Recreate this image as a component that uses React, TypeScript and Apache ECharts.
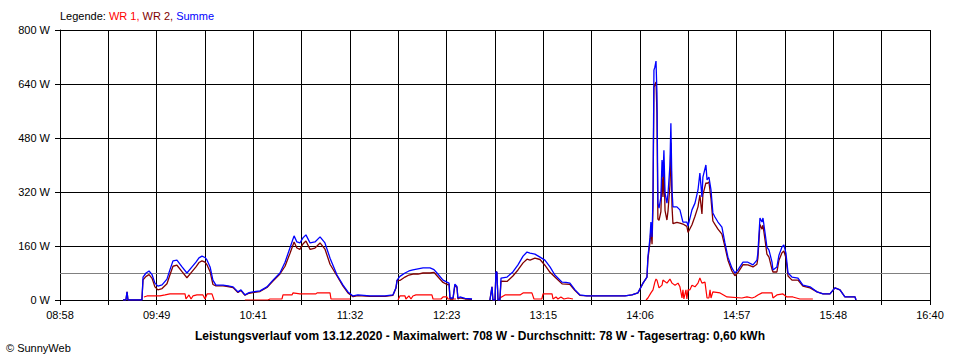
import React, { useEffect, useRef } from "react";
import * as echarts from "echarts";

// x-axis tick labels (every second grid line)
const xTickLabels = ["08:58", "09:49", "10:41", "11:32", "12:23", "13:15", "14:06", "14:57", "15:48", "16:40"];
const yUnit = " W";
const averageW = 78;

const titleText =
  "Leistungsverlauf vom 13.12.2020 - Maximalwert: 708 W - Durchschnitt: 78 W - Tagesertrag: 0,60 kWh";
const copyrightText = "© SunnyWeb";

// times in minutes of the day (shared by Summe and WR 2)
const sumTimes = [
  571.5, 573.0, 573.6, 574.1, 577.8, 581.5, 582.1, 583.7, 585.3, 586.9,
  588.4, 590.0, 592.2, 594.8, 596.4, 598.0, 600.1, 602.8, 605.4, 608.1,
  610.2, 611.8, 613.4, 615.0, 616.1, 617.7, 619.2, 620.8, 624.6, 627.2,
  629.9, 632.5, 634.1, 636.2, 638.4, 640.5, 644.2, 647.9, 651.1, 654.8,
  657.5, 660.1, 662.3, 663.8, 665.4, 667.0, 668.6, 670.8, 673.4, 676.1,
  678.7, 681.4, 685.1, 688.3, 690.9, 693.6, 696.2, 702.6, 710.6, 714.8,
  716.4, 717.0, 718.5, 721.2, 723.3, 725.4, 728.1, 730.8, 734.5, 736.6,
  738.2, 741.4, 743.5, 744.6, 745.1, 746.7, 747.7, 748.8, 749.3, 750.4,
  753.1, 756.8, 757.0, 766.3, 767.4, 767.9, 769.0, 769.5, 770.0, 770.6,
  771.6, 772.2, 775.4, 778.5, 781.2, 783.9, 786.0, 787.6, 790.2, 792.9,
  795.5, 798.2, 800.8, 804.6, 806.7, 808.8, 811.5, 814.1, 817.8, 824.7,
  832.7, 838.0, 841.7, 844.9, 847.6, 849.7, 850.2, 851.3, 851.8, 852.4,
  852.9, 853.4, 853.9, 854.5, 855.0, 855.5, 856.1, 857.1, 857.7, 858.2,
  858.7, 859.3, 860.3, 860.9, 861.9, 862.4, 863.0, 863.5, 865.6, 867.2,
  868.8, 870.9, 871.5, 873.6, 875.2, 876.8, 877.8, 878.9, 879.4, 881.0,
  881.6, 882.6, 883.7, 884.7, 885.8, 887.4, 889.5, 891.1, 892.7, 894.8,
  896.4, 898.0, 900.7, 903.3, 906.0, 908.1, 908.6, 909.7, 910.8, 911.3,
  912.4, 913.4, 914.5, 916.1, 916.6, 918.7, 919.8, 921.4, 922.4, 923.5,
  924.6, 926.7, 929.9, 932.5, 936.3, 940.0, 943.2, 946.9, 949.5, 952.2,
  954.8, 960.2, 960.7,
];

const summe = [
  0, 0, 24, 0, 0, 0, 68, 80, 86, 75,
  50, 41, 45, 62, 90, 116, 118, 98, 80, 98,
  112, 125, 130, 126, 118, 98, 59, 44, 44, 42,
  39, 24, 30, 15, 22, 24, 27, 39, 59, 80,
  112, 154, 190, 172, 169, 184, 193, 169, 172, 187,
  169, 124, 74, 44, 24, 12, 15, 12, 12, 15,
  36, 59, 70, 80, 86, 89, 92, 95, 95, 90,
  80, 59, 53, 50, 6, 6, 47, 40, 6, 9,
  5, 3, null, 0, 39, 0, 0, 83, 83, 0,
  0, 65, 68, 83, 104, 130, 142, 139, 136, 127,
  118, 98, 74, 53, 52, 50, 30, 15, 12, 12,
  12, 12, 15, 21, 50, 68, 127, 184, 231, 187,
  305, 681, 690, 708, 613, 287, 272, 305, 415, 364,
  444, 317, 287, 317, 400, 524, 326, 276, 276, 267,
  231, 231, 219, 267, 287, 326, 376, 305, 364, 400,
  356, 364, 326, 258, 246, 231, 216, 169, 127, 95,
  80, 89, 112, 112, 104, 118, 139, 243, 231, 243,
  199, 157, 148, 112, 89, 98, 133, 157, 163, 139,
  80, 68, 65, 44, 39, 24, 18, 18, 36, 30,
  9, 9, 0,
];

const wr2 = [
  0, 0, 24, 0, 0, 0, 60, 70, 75, 64,
  39, 30, 34, 48, 75, 100, 103, 84, 66, 84,
  98, 111, 116, 112, 104, 84, 46, 42, 42, 40,
  37, 22, 28, 14, 20, 22, 25, 37, 56, 77,
  100, 138, 172, 154, 150, 166, 175, 150, 154, 169,
  151, 106, 71, 41, 21, 10, 13, 11, 11, 14,
  35, 58, 58, 68, 74, 77, 77, 80, 80, 82,
  72, 52, 46, 46, 3, 3, 44, 37, 3, 6,
  3, 2, null, 0, 39, 0, 0, 83, 83, 0,
  0, 56, 55, 71, 89, 110, 121, 118, 124, 120,
  103, 82, 68, 48, 47, 46, 28, 14, 12, 12,
  12, 12, 15, 21, 50, 68, 121, 170, 210, 165,
  275, 630, 637, 646, 554, 240, 236, 262, 371, 305,
  385, 265, 237, 265, 340, 466, 276, 226, 230, 228,
  225, 218, 200, 223, 248, 276, 311, 255, 312, 347,
  345, 350, 300, 234, 224, 210, 195, 158, 118, 86,
  72, 81, 105, 104, 98, 106, 124, 224, 210, 222,
  178, 136, 127, 91, 83, 83, 118, 140, 145, 125,
  71, 59, 59, 41, 36, 24, 18, 18, 36, 30,
  9, 9, 0,
];

// WR 1 has its own time points
const wr1Times = [
  582.6, 584.2, 591.1, 593.8, 596.4, 604.4, 604.9, 606.5, 607.6, 608.6,
  610.7, 613.9, 615.0, 616.1, 618.7, 619.8, 620.0,
  636.2, 648.4, 649.5, 655.9, 656.4, 661.2, 661.7, 665.4, 673.9, 674.5,
  681.4, 681.9, 692.0, 692.5,
  717.5, 718.5, 721.2, 721.7, 723.3, 724.4, 725.4, 727.0, 735.5, 736.1,
  740.3, 741.4, 743.5, 744.0, 748.3, 748.8,
  770.6, 771.6, 774.3, 782.3, 783.9, 788.6, 789.7, 793.9, 794.5, 799.3,
  799.8, 801.4, 802.4, 804.0, 805.6, 807.8, 810.4, 811.0,
  849.2, 850.2, 851.8, 852.9, 853.9, 854.5, 855.0, 856.1, 857.7, 858.2,
  860.3, 861.9, 863.0, 864.6, 866.2, 867.2, 868.3, 868.8, 869.3, 870.4,
  870.9, 871.5, 872.5, 873.6, 875.2, 876.8, 877.8, 878.9, 880.5, 881.6,
  882.6, 883.2, 883.7, 884.7, 888.5, 892.2, 900.1, 902.8, 905.5, 907.0,
  908.6, 910.8, 916.1, 916.6, 918.7, 921.9, 924.0, 927.2, 930.9, 937.8,
];

const wr1 = [
  9, 12, 12, 15, 18, 18, 3, 15, 3, 12,
  15, 15, 3, 18, 18, 0, null,
  0, 0, 3, 3, 15, 15, 21, 18, 18, 21,
  21, 3, 3, null,
  0, 12, 12, 3, 12, 3, 12, 15, 15, 3,
  3, 9, 9, 3, 3, null,
  0, 6, 15, 15, 21, 21, 3, 3, 18, 18,
  3, 9, 3, 9, 3, 6, 3, null,
  0, 6, 21, 30, 53, 62, 59, 36, 44, 59,
  50, 62, 50, 44, 50, 39, 6, 30, 3, 30,
  3, 30, 30, 44, 39, 50, 65, 50, 53, 6,
  6, 30, 6, 24, 21, 9, 6, 9, 6, 9,
  15, 21, 21, 6, 15, 18, 9, 9, 3, 3,
];

const START_MIN = 8 * 60 + 58; // 08:58
const END_MIN = 16 * 60 + 40; // 16:40
const STEP_SEC = ((END_MIN - START_MIN) * 60) / 18;

function toPoints(times: number[], values: (number | null)[]) {
  return times.map((t, i) => [(t - START_MIN) * 60, values[i] === null ? "-" : values[i]]);
}

const FONT = "Liberation Sans, Arial, sans-serif";

export default function App() {
  const ref = useRef<HTMLDivElement>(null);
  useEffect(() => {
    if (!ref.current) return;
    const chart = echarts.init(ref.current, undefined, { renderer: "svg" });
    chart.setOption({
      animation: false,
      backgroundColor: "#ffffff",
      textStyle: { fontFamily: FONT },
      grid: { left: 60, right: 30, top: 30, bottom: 60 },
      xAxis: {
        type: "value",
        min: 0,
        max: (END_MIN - START_MIN) * 60,
        interval: STEP_SEC,
        axisLine: { show: true, onZero: false, lineStyle: { color: "#000", width: 1 } },
        axisTick: { show: true, length: 5, lineStyle: { color: "#000", width: 1 } },
        splitLine: { show: true, lineStyle: { color: "#000", width: 1 } },
        axisLabel: {
          color: "#000",
          fontSize: 11,
          fontFamily: FONT,
          margin: 9,
          showMinLabel: true,
          showMaxLabel: true,
          formatter: (v: number) => {
            const i = Math.round(v / STEP_SEC);
            return i % 2 === 0 ? xTickLabels[i / 2] ?? "" : "";
          },
        },
      },
      yAxis: {
        type: "value",
        min: 0,
        max: 800,
        interval: 160,
        axisLine: { show: true, lineStyle: { color: "#000", width: 1 } },
        axisTick: { show: true, length: 5, lineStyle: { color: "#000", width: 1 } },
        splitLine: { show: true, lineStyle: { color: "#000", width: 1 } },
        axisLabel: {
          color: "#000",
          fontSize: 11,
          fontFamily: FONT,
          margin: 10,
          formatter: (v: number) => v + yUnit,
        },
      },
      series: [
        {
          name: "WR 1",
          type: "line",
          data: toPoints(wr1Times, wr1),
          showSymbol: false,
          symbol: "none",
          lineStyle: { color: "#ff0000", width: 1.2 },
          itemStyle: { color: "#ff0000" },
          z: 3,
        },
        {
          name: "WR 2",
          type: "line",
          data: toPoints(sumTimes, wr2),
          showSymbol: false,
          symbol: "none",
          lineStyle: { color: "#800000", width: 1.3 },
          itemStyle: { color: "#800000" },
          z: 4,
        },
        {
          name: "Summe",
          type: "line",
          data: toPoints(sumTimes, summe),
          showSymbol: false,
          symbol: "none",
          lineStyle: { color: "#0000ff", width: 1.3 },
          itemStyle: { color: "#0000ff" },
          z: 5,
          markLine: {
            silent: true,
            symbol: "none",
            label: { show: false },
            lineStyle: { color: "#808080", width: 1, type: "solid" },
            data: [{ yAxis: averageW }],
            z: 2,
          },
        },
      ],
      graphic: [
        {
          type: "text",
          left: 60,
          top: 10,
          style: {
            text: "{k|Legende: }{r|WR 1, }{d|WR 2, }{b|Summe}",
            font: "11px " + FONT,
            rich: {
              k: { fill: "#000000", fontSize: 11, fontFamily: FONT },
              r: { fill: "#ff0000", fontSize: 11, fontFamily: FONT },
              d: { fill: "#800000", fontSize: 11, fontFamily: FONT },
              b: { fill: "#0000ff", fontSize: 11, fontFamily: FONT },
            },
          },
        },
        {
          type: "text",
          left: "center",
          top: 330,
          style: { text: titleText, font: "bold 12px " + FONT, fill: "#000" },
        },
        {
          type: "text",
          left: 6,
          top: 342,
          style: { text: copyrightText, font: "11px " + FONT, fill: "#000" },
        },
      ],
    });
    return () => chart.dispose();
  }, []);
  return (
    <div
      ref={ref}
      style={{ position: "absolute", left: 0, top: 0, width: 960, height: 360 }}
    />
  );
}
